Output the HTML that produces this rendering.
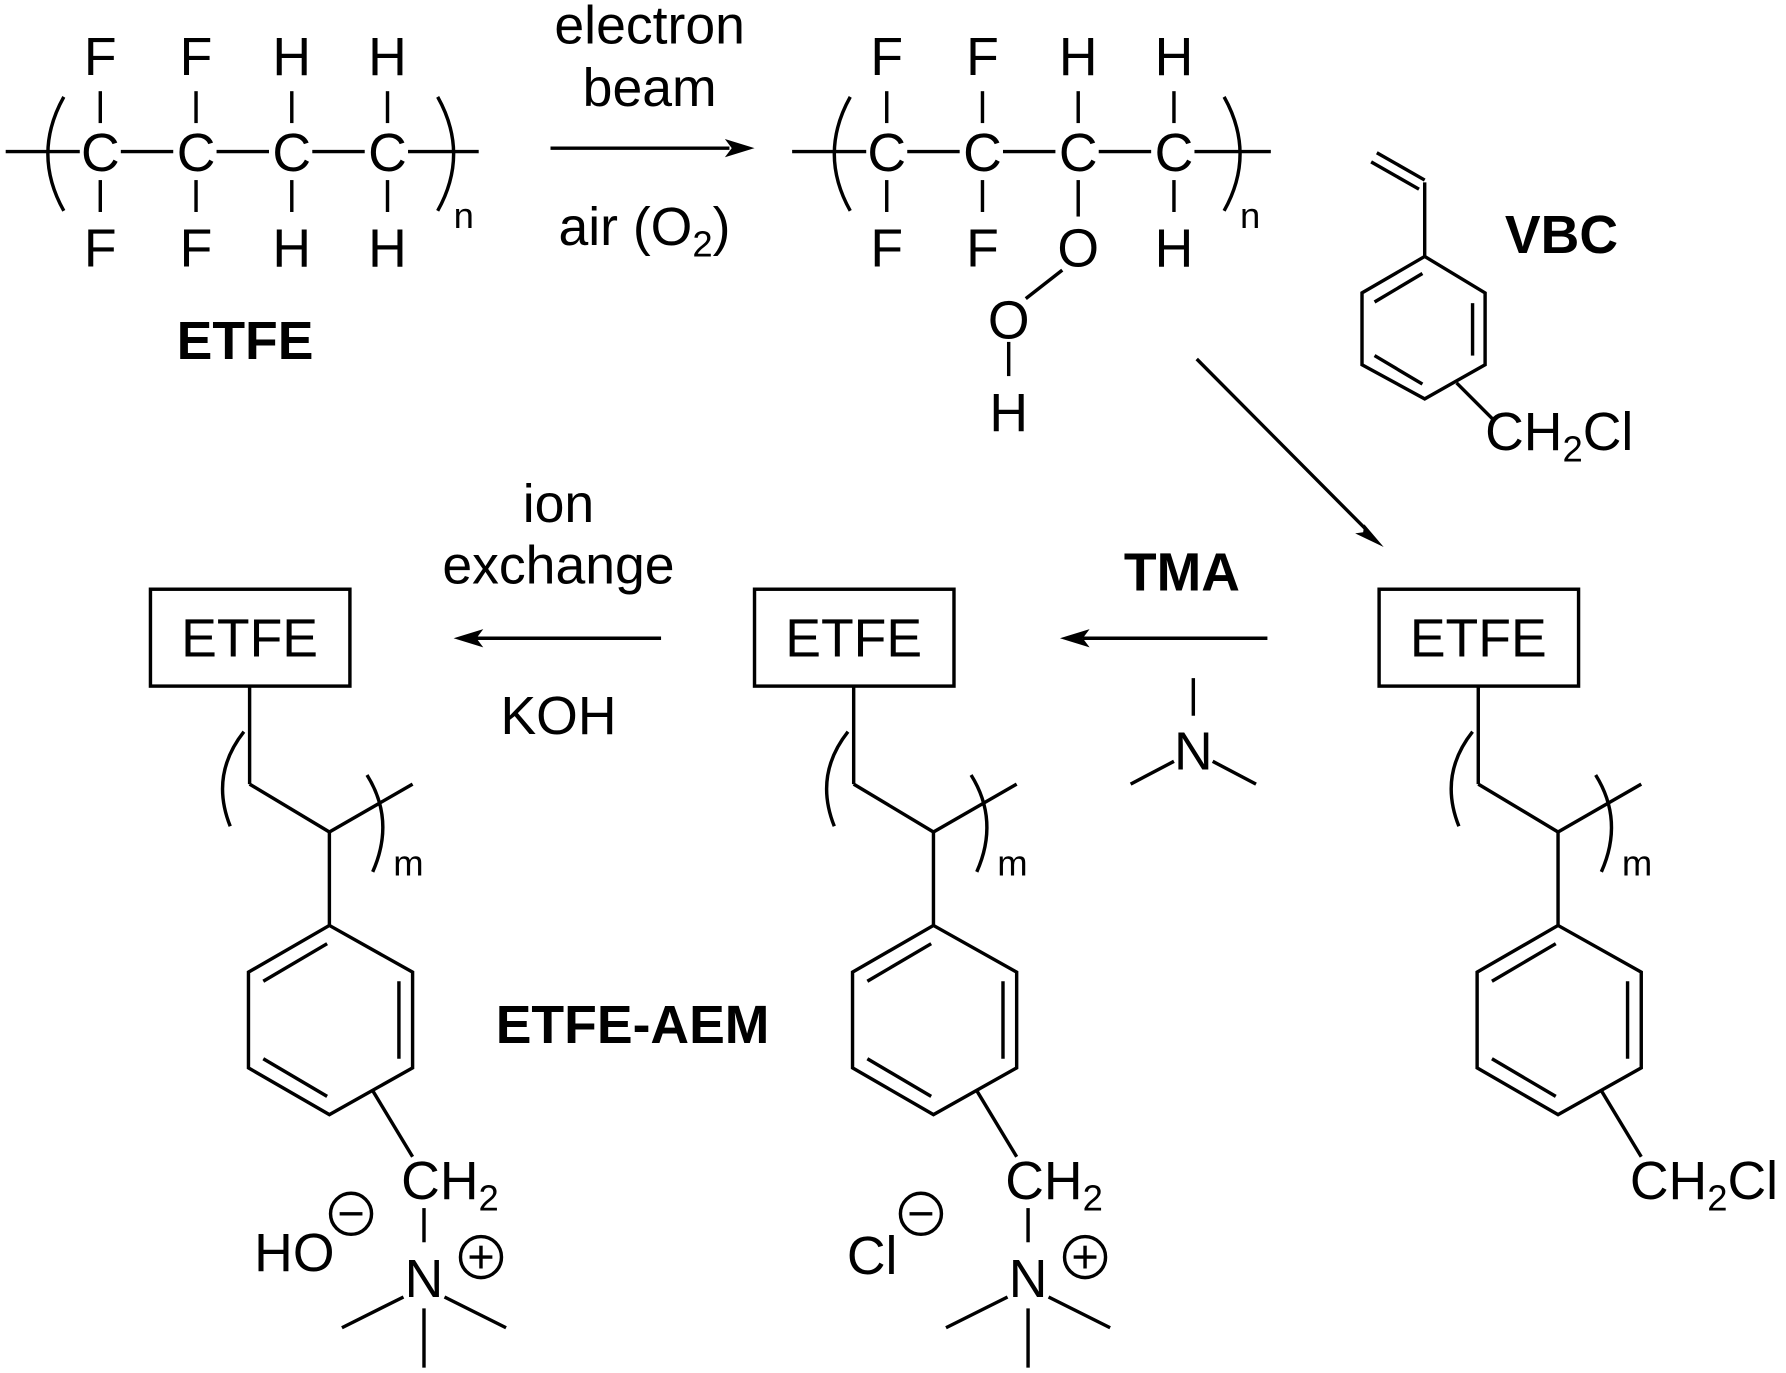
<!DOCTYPE html>
<html><head><meta charset="utf-8"><style>
html,body{margin:0;padding:0;background:#fff;}
svg{display:block}
text{font-family:"Liberation Sans",sans-serif;font-size:47px;fill:#000}
.b{font-weight:bold}
.s{font-size:32px}
</style></head><body>
<svg width="1786" height="1373" viewBox="0 0 1567 1204.7" preserveAspectRatio="none">
<g stroke="#000" stroke-width="3" fill="none" stroke-linecap="butt">
<!-- top-left polymer -->
<line x1="5" y1="133" x2="70" y2="133"/>
<path d="M56 85 Q28 135 56 185"/>
<path d="M384 85 Q412 135 384 185"/>
<line x1="358" y1="133" x2="420" y2="133"/>
<line x1="106" y1="133" x2="152" y2="133"/><line x1="190" y1="133" x2="236" y2="133"/><line x1="274" y1="133" x2="320" y2="133"/>
<g id="vb"><line x1="88" y1="80" x2="88" y2="108"/><line x1="88" y1="158" x2="88" y2="186"/></g>
<use href="#vb" x="84"/><use href="#vb" x="168"/><use href="#vb" x="252"/>
<!-- arrow top -->
<line x1="483" y1="130" x2="640" y2="130"/>
<!-- second polymer -->
<line x1="695" y1="133" x2="760" y2="133"/>
<path d="M746 85 Q718 135 746 185"/>
<path d="M1074 85 Q1102 135 1074 185"/>
<line x1="1048" y1="133" x2="1115" y2="133"/>
<line x1="796" y1="133" x2="842" y2="133"/><line x1="880" y1="133" x2="926" y2="133"/><line x1="964" y1="133" x2="1010" y2="133"/>
<use href="#vb" x="690"/><use href="#vb" x="774"/><use href="#vb" x="942"/>
<line x1="946" y1="80" x2="946" y2="108"/><line x1="946" y1="158" x2="946" y2="190"/>
<line x1="932" y1="237" x2="900" y2="262"/>
<line x1="885" y1="300" x2="885" y2="330"/>
<!-- VBC -->
<line x1="1203" y1="142" x2="1245" y2="166"/>
<line x1="1208" y1="134" x2="1250" y2="158"/>
<line x1="1250" y1="160" x2="1250" y2="225"/>
<polygon points="1250,225 1303,257 1303,320 1250,350 1195,320 1195,257"/>
<line x1="1292" y1="266" x2="1292" y2="312"/>
<line x1="1206" y1="312" x2="1248" y2="337"/>
<line x1="1206" y1="265" x2="1248" y2="240"/>
<line x1="1278" y1="336" x2="1310" y2="368"/>
<!-- diagonal arrow -->
<line x1="1050" y1="315" x2="1200" y2="466"/>
<!-- TMA arrow -->
<line x1="1112" y1="560" x2="950" y2="560"/>
<line x1="1047" y1="595" x2="1047" y2="628"/>
<line x1="1030" y1="668" x2="992" y2="688"/>
<line x1="1064" y1="668" x2="1102" y2="688"/>
<!-- ion exchange arrow -->
<line x1="580" y1="560" x2="418" y2="560"/>
<!-- bottom unit -->
<g id="unit">
<rect x="1210" y="517" width="175" height="85"/>
<line x1="1297" y1="602" x2="1297" y2="688"/>
<line x1="1297" y1="688" x2="1367" y2="730"/>
<line x1="1367" y1="730" x2="1440" y2="688"/>
<path d="M1292 642 Q1262 680 1280 725"/>
<path d="M1400 680 Q1425 720 1405 765"/>
<line x1="1367" y1="730" x2="1367" y2="812"/>
<polygon points="1367,812 1440,853 1440,937 1367,978 1296,937 1296,853"/>
<line x1="1428" y1="861" x2="1428" y2="929"/>
<line x1="1309" y1="929" x2="1365" y2="962"/>
<line x1="1309" y1="861" x2="1365" y2="828"/>
<line x1="1405" y1="957" x2="1440" y2="1015"/>
</g>
<use href="#unit" x="-548"/>
<use href="#unit" x="-1078"/>
<!-- middle N -->
<line x1="902" y1="1060" x2="902" y2="1090"/>
<line x1="884" y1="1138" x2="830" y2="1165"/>
<line x1="920" y1="1138" x2="974" y2="1165"/>
<line x1="902" y1="1148" x2="902" y2="1200"/>
<circle cx="952" cy="1103" r="18"/><line x1="942" y1="1103" x2="962" y2="1103"/><line x1="952" y1="1093" x2="952" y2="1113"/>
<circle cx="808" cy="1065" r="18"/><line x1="798" y1="1065" x2="818" y2="1065"/>
<!-- left N -->
<line x1="372" y1="1060" x2="372" y2="1090"/>
<line x1="354" y1="1138" x2="300" y2="1165"/>
<line x1="390" y1="1138" x2="444" y2="1165"/>
<line x1="372" y1="1148" x2="372" y2="1200"/>
<circle cx="422" cy="1103" r="18"/><line x1="412" y1="1103" x2="432" y2="1103"/><line x1="422" y1="1093" x2="422" y2="1113"/>
<circle cx="308" cy="1065" r="18"/><line x1="298" y1="1065" x2="318" y2="1065"/>
</g>
<g fill="#000">
<polygon points="662,130 636,122 642,130 636,138"/>
<polygon points="1214,480 1189,468 1196,467 1197,460"/>
<polygon points="930,560 956,552 950,560 956,568"/>
<polygon points="398,560 424,552 418,560 424,568"/>
</g>
<g text-anchor="middle">
<g fill="#fff" stroke="none"><rect x="72" y="112" width="32" height="40"/><rect x="324" y="112" width="32" height="40"/><rect x="762" y="112" width="32" height="40"/><rect x="1014" y="112" width="32" height="40"/></g>
<text x="88" y="66">F</text><text x="172" y="66">F</text><text x="256" y="66">H</text><text x="340" y="66">H</text>
<text x="88" y="150">C</text><text x="172" y="150">C</text><text x="256" y="150">C</text><text x="340" y="150">C</text>
<text x="88" y="234">F</text><text x="172" y="234">F</text><text x="256" y="234">H</text><text x="340" y="234">H</text>
<text x="215" y="315" class="b">ETFE</text>
<text x="570" y="38">electron</text><text x="570" y="93">beam</text>
<text x="778" y="66">F</text><text x="862" y="66">F</text><text x="946" y="66">H</text><text x="1030" y="66">H</text>
<text x="778" y="150">C</text><text x="862" y="150">C</text><text x="946" y="150">C</text><text x="1030" y="150">C</text>
<text x="778" y="234">F</text><text x="862" y="234">F</text><text x="946" y="234">O</text><text x="1030" y="234">H</text>
<text x="885" y="297">O</text><text x="885" y="378">H</text>
<text x="1370" y="222" class="b">VBC</text>
<text x="1037" y="518" class="b">TMA</text>
<text x="1047" y="675">N</text>
<text x="490" y="458">ion</text><text x="490" y="512">exchange</text><text x="490" y="644">KOH</text>
<text x="555" y="915" class="b">ETFE-AEM</text>
<text x="1297" y="576">ETFE</text><text x="749" y="576">ETFE</text><text x="219" y="576">ETFE</text>
<text x="902" y="1138">N</text><text x="372" y="1138">N</text>
</g>
<text x="490" y="215">air (O<tspan class="s" dy="10">2</tspan><tspan dy="-10">)</tspan></text>
<text x="398" y="200" class="s">n</text>
<text x="1088" y="200" class="s">n</text>
<text x="1303" y="395">CH<tspan class="s" dy="10">2</tspan><tspan dy="-10">Cl</tspan></text>
<text x="1430" y="1052">CH<tspan class="s" dy="10">2</tspan><tspan dy="-10">Cl</tspan></text>
<text x="882" y="1052">CH<tspan class="s" dy="10">2</tspan></text>
<text x="352" y="1052">CH<tspan class="s" dy="10">2</tspan></text>
<text x="1423" y="768" class="s">m</text><text x="875" y="768" class="s">m</text><text x="345" y="768" class="s">m</text>
<text x="743" y="1118">Cl</text>
<text x="223" y="1115">HO</text>
</svg>
</body></html>
